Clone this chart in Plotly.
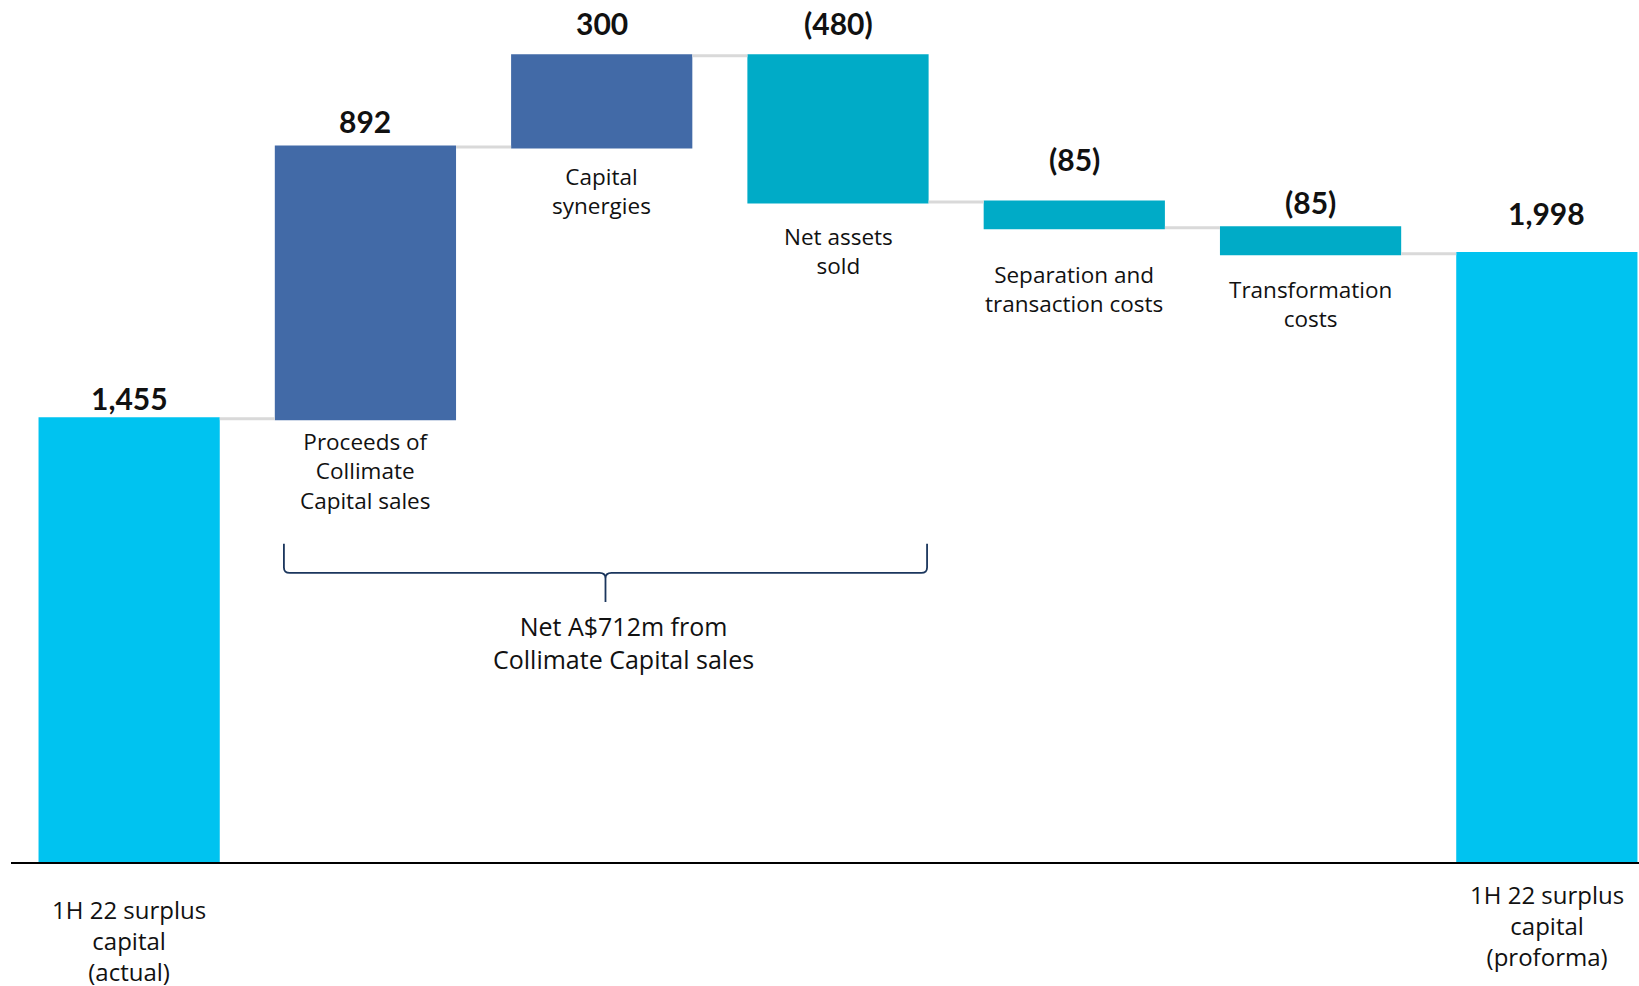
import plotly.graph_objects as go

# Surplus capital bridge (A$m)
categories = ["start", "proceeds", "synergies", "net_assets", "separation", "transformation", "end"]
values = [1455, 892, 300, -480, -85, -85, 1998]
measures = ["absolute", "relative", "relative", "relative", "relative", "relative", "absolute"]
step_labels = [
    "",
    "Proceeds of<br>Collimate<br>Capital sales",
    "Capital<br>synergies",
    "Net assets<br>sold",
    "Separation and<br>transaction costs",
    "Transformation<br>costs",
    "",
]
axis_labels = [
    "1H 22 surplus<br>capital<br>(actual)",
    "", "", "", "", "",
    "1H 22 surplus<br>capital<br>(proforma)",
]
bracket_text = "Net A$712m from<br>Collimate Capital sales"

TOTAL = "#00C3F0"
UP = "#426AA7"
DOWN = "#00ABC7"
CONNECTOR = "#D9D9D9"
NAVY = "#1B365D"
NUM_FONT = "Lato"
TEXT_FONT = "Open Sans"


def fmt(v):
    return f"({abs(v):,})" if v < 0 else f"{v:,}"


# running bar extents (top / bottom) for label placement
tops, bottoms = [], []
level = 0
for v, m in zip(values, measures):
    if m == "absolute":
        lo, hi = 0, v
        level = v
    else:
        lo, hi = sorted((level, level + v))
        level += v
    tops.append(hi)
    bottoms.append(lo)

fig = go.Figure(go.Waterfall(
    x=list(range(len(categories))),
    y=values,
    measure=measures,
    width=0.767,
    increasing=dict(marker=dict(color=UP)),
    decreasing=dict(marker=dict(color=DOWN)),
    totals=dict(marker=dict(color=TOTAL)),
    connector=dict(mode="between", line=dict(color=CONNECTOR, width=3)),
    hoverinfo="skip",
))

value_shift = [21, 26, 33, 33, 43, 26, 40]
label_shift = [0, -5, -12, -17, -29, -18, 0]
axis_shift = [-29, 0, 0, 0, 0, 0, -14]

annotations = []
for i, v in enumerate(values):
    annotations.append(dict(
        x=i, y=tops[i], xref="x", yref="y", text=fmt(v), showarrow=False,
        yanchor="middle", yshift=value_shift[i],
        font=dict(family=NUM_FONT, size=30, color="#111111", weight="bold"),
    ))
    if step_labels[i]:
        annotations.append(dict(
            x=i, y=bottoms[i], xref="x", yref="y", text=step_labels[i], showarrow=False,
            yanchor="top", yshift=label_shift[i],
            font=dict(family=TEXT_FONT, size=22.5, color="#111111"),
        ))
    if axis_labels[i]:
        annotations.append(dict(
            x=i, y=0, xref="x", yref="y", text=axis_labels[i], showarrow=False,
            yanchor="top", yshift=axis_shift[i],
            font=dict(family=TEXT_FONT, size=24, color="#111111"),
        ))

annotations.append(dict(
    x=2.094, y=720, xref="x", yref="y", text=bracket_text, showarrow=False,
    yanchor="middle", font=dict(family=TEXT_FONT, size=25, color="#111111"),
))
# unit caption at the very top-left edge
annotations.append(dict(
    x=0.0, y=0.9965, xref="paper", yref="paper", text="(A$m)", showarrow=False,
    xanchor="left", yanchor="bottom", xshift=14,
    font=dict(family=TEXT_FONT, size=22, color="#111111"),
))

# curly bracket spanning the Collimate Capital steps
x0, x1, xc = 0.655, 3.377, 2.016
y_top, y_h, y_tip = 1045, 949, 854
dx, dy = 0.025, 18
bracket = (
    f"M {x0},{y_top} L {x0},{y_h + dy} Q {x0},{y_h} {x0 + dx},{y_h} "
    f"L {xc - dx},{y_h} Q {xc},{y_h} {xc},{y_h - dy} L {xc},{y_tip} "
    f"M {xc},{y_h - dy} Q {xc},{y_h} {xc + dx},{y_h} "
    f"L {x1 - dx},{y_h} Q {x1},{y_h} {x1},{y_h + dy} L {x1},{y_top}"
)

fig.update_layout(
    width=1639, height=986,
    margin=dict(l=11, r=0, t=0, b=124),
    paper_bgcolor="white", plot_bgcolor="white",
    showlegend=False,
    font=dict(family=TEXT_FONT),
    xaxis=dict(range=[-0.5, 6.39], showticklabels=False, showgrid=False, zeroline=False,
               showline=True, linecolor="#000000", linewidth=2, ticks=""),
    yaxis=dict(range=[0, 2830], visible=False, showgrid=False, zeroline=False),
    annotations=annotations,
    shapes=[dict(type="path", path=bracket, xref="x", yref="y",
                 line=dict(color=NAVY, width=1.8))],
)

fig.write_html("out.html")
